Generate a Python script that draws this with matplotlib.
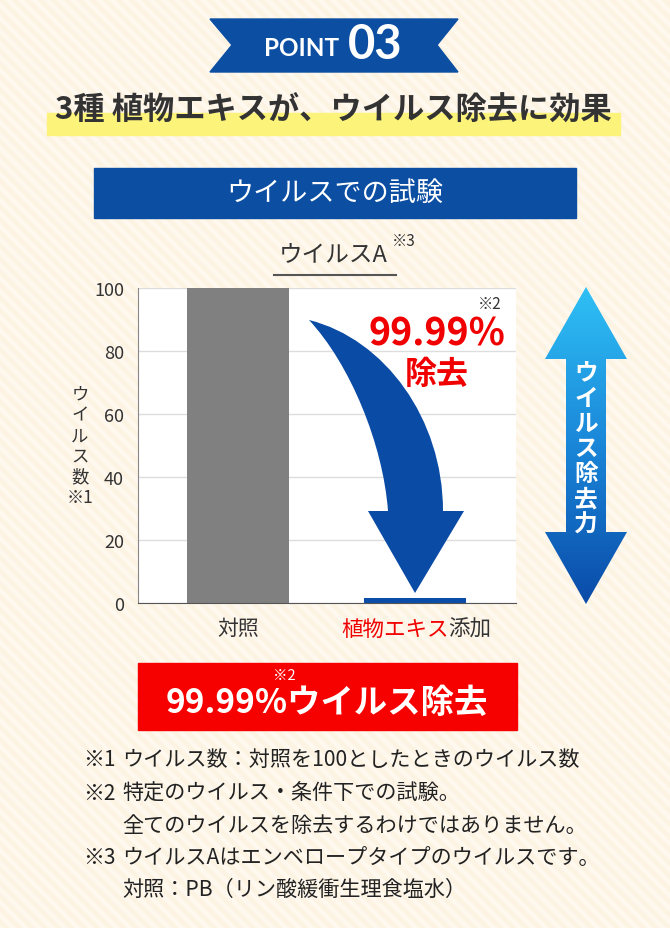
import matplotlib
matplotlib.use("Agg")
import matplotlib.pyplot as plt
import numpy as np
from matplotlib.patches import Polygon, Rectangle, PathPatch
from matplotlib.path import Path
from matplotlib.colors import LinearSegmentedColormap

plt.rcParams['font.family'] = ['Noto Sans CJK JP', 'DejaVu Sans']

categories = ["対照", "植物エキス添加"]
values = [100, 1.6]
bar_colors = ["#808080", "#0A4DA8"]
yticks = [0, 20, 40, 60, 80, 100]

notes = [
    ("※1", "ウイルス数：対照を100としたときのウイルス数"),
    ("※2", "特定のウイルス・条件下での試験。"),
    ("", "全てのウイルスを除去するわけではありません。"),
    ("※3", "ウイルスAはエンベロープタイプのウイルスです。"),
    ("", "対照：PB（リン酸緩衝生理食塩水）"),
]

W, H = 670, 929
fig = plt.figure(figsize=(W / 100, H / 100), dpi=100)

# background / decoration layer in pixel coordinates
deco = fig.add_axes([0, 0, 1, 1], zorder=0)
deco.set_xlim(0, W)
deco.set_ylim(H, 0)
deco.axis("off")
deco.add_patch(Rectangle((0, 0), W, H, color="#FDF3E3", zorder=0))
for x0 in np.arange(-H, W, 13):
    deco.plot([x0, x0 + H], [0, H], color="#FEF8EF", lw=3.2, zorder=0.5)

# ribbon
deco.add_patch(Polygon([(210, 20), (458, 20), (437, 46), (458, 73), (210, 73), (232, 46)],
                       closed=True, color="#0B4EA2", zorder=1))
deco.text(302, 48, "POINT", color="white", fontsize=17.5, fontweight="bold",
          family="Lato", ha="center", va="center", zorder=2)
deco.text(375, 45, "03", color="white", fontsize=34, fontweight="bold",
          family="Lato", ha="center", va="center", zorder=2)

# headline with highlight
deco.add_patch(Rectangle((47, 114), 573, 22, color="#FCF37A", zorder=1))
deco.text(333, 111, "3種 植物エキスが、ウイルス除去に効果", color="#333333", fontsize=22.5,
          fontweight="bold", ha="center", va="center", zorder=2)

# blue heading bar
deco.add_patch(Rectangle((94, 169), 482, 50, color="#0B4EA2", zorder=1))
deco.text(335, 193, "ウイルスでの試験", color="white", fontsize=19.5,
          ha="center", va="center", zorder=2)

# chart title
deco.text(333, 256, "ウイルスA", color="#333333", fontsize=17, ha="center", va="center", zorder=2)
deco.text(404, 241, "※3", color="#333333", fontsize=11, ha="center", va="center", zorder=2)
deco.plot([274, 396], [276, 276], color="#555555", lw=1.5, zorder=2)

# double arrow with gradient
cx = 586
arrow_pts = [(cx, 288), (cx + 41, 360), (cx + 20, 360), (cx + 20, 533), (cx + 41, 533),
             (cx, 605), (cx - 41, 533), (cx - 20, 533), (cx - 20, 360), (cx - 41, 360)]
arrow_patch = Polygon(arrow_pts, closed=True, facecolor="none", edgecolor="none", zorder=1)
deco.add_patch(arrow_patch)
cmap = LinearSegmentedColormap.from_list("grad", ["#2FC0F5", "#1A86D8", "#0A4BA8"])
grad = np.linspace(0, 1, 256).reshape(-1, 1)
im = deco.imshow(grad, cmap=cmap, extent=[cx - 41, cx + 41, 605, 288], aspect="auto", zorder=1)
im.set_clip_path(arrow_patch)
deco.set_xlim(0, W)
deco.set_ylim(H, 0)
deco.text(cx, 449, "ウ\nイ\nル\nス\n除\n去\n力", color="white", fontsize=17, fontweight="bold",
          ha="center", va="center", linespacing=1.06, zorder=2)

# bottom red box
deco.add_patch(Rectangle((138, 664), 379, 67, color="#F60000", zorder=1))
deco.text(327, 703, "99.99%ウイルス除去", color="white", fontsize=24, fontweight="bold",
          ha="center", va="center", zorder=2)
deco.text(284, 676, "※2", color="white", fontsize=10.5, ha="center", va="center", zorder=3)

# footnotes
ys = [760, 794, 826, 858, 890]
for (mark, txt), y in zip(notes, ys):
    if mark:
        deco.text(83, y, mark, color="#222222", fontsize=15, ha="left", va="center", zorder=2)
    deco.text(122, y, txt, color="#222222", fontsize=15.2, ha="left", va="center", zorder=2)

# chart
ax = fig.add_axes([138 / W, 1 - 604 / H, 378 / W, 315 / H], zorder=2)
ax.set_facecolor("white")
x = np.arange(len(categories))
ax.bar(x, values, width=0.58, color=bar_colors, zorder=2)
ax.set_xlim(-0.565, 1.571)
ax.set_ylim(0, 100)
ax.set_yticks(yticks)
ax.grid(axis="y", color="#DDDDDD", lw=1, zorder=0)
ax.set_axisbelow(True)
for s in ["top", "right"]:
    ax.spines[s].set_visible(False)
ax.spines["left"].set_color("#888888")
ax.spines["bottom"].set_color("#555555")
ax.tick_params(axis="y", length=0, pad=10, labelsize=13, labelcolor="#333333")
ax.tick_params(axis="x", length=0, pad=10, labelsize=15, labelcolor="#333333")
ax.set_xticks(x, [categories[0], ""])
ax.text(1.19, -0.083, categories[1][:5], color="#F00000", fontsize=15.5,
        transform=ax.get_xaxis_transform(), ha="right", va="center")
ax.text(1.19, -0.083, categories[1][5:], color="#333333", fontsize=15.5,
        transform=ax.get_xaxis_transform(), ha="left", va="center")
ax.set_ylabel("ウ\nイ\nル\nス\n数\n※1", rotation=0, fontsize=12.5, color="#333333",
              ha="center", va="center", linespacing=1.2)
ax.yaxis.set_label_coords((80 - 138) / 378, 0.5)

# top layer: curved arrow and removal text
top = fig.add_axes([0, 0, 1, 1], zorder=3)
top.set_xlim(0, W)
top.set_ylim(H, 0)
top.axis("off")
verts = [(309, 321), (385, 340), (443, 420), (443, 512),
         (464, 512), (415, 594), (368, 512), (388, 512),
         (383, 445), (350, 365), (309, 321), (309, 321)]
codes = [Path.MOVETO, Path.CURVE4, Path.CURVE4, Path.CURVE4,
         Path.LINETO, Path.LINETO, Path.LINETO, Path.LINETO,
         Path.CURVE4, Path.CURVE4, Path.CURVE4, Path.CLOSEPOLY]
top.add_patch(PathPatch(Path(verts, codes), facecolor="#0A4BA6", edgecolor="none"))
top.text(437, 334, "99.99%", color="#F00000", fontsize=27, fontweight="bold",
         ha="center", va="center")
top.text(437, 375, "除去", color="#F00000", fontsize=23, fontweight="bold",
         ha="center", va="center")
top.text(490, 304, "※2", color="#333333", fontsize=11, ha="center", va="center")

fig.savefig("out.png", dpi=100)
